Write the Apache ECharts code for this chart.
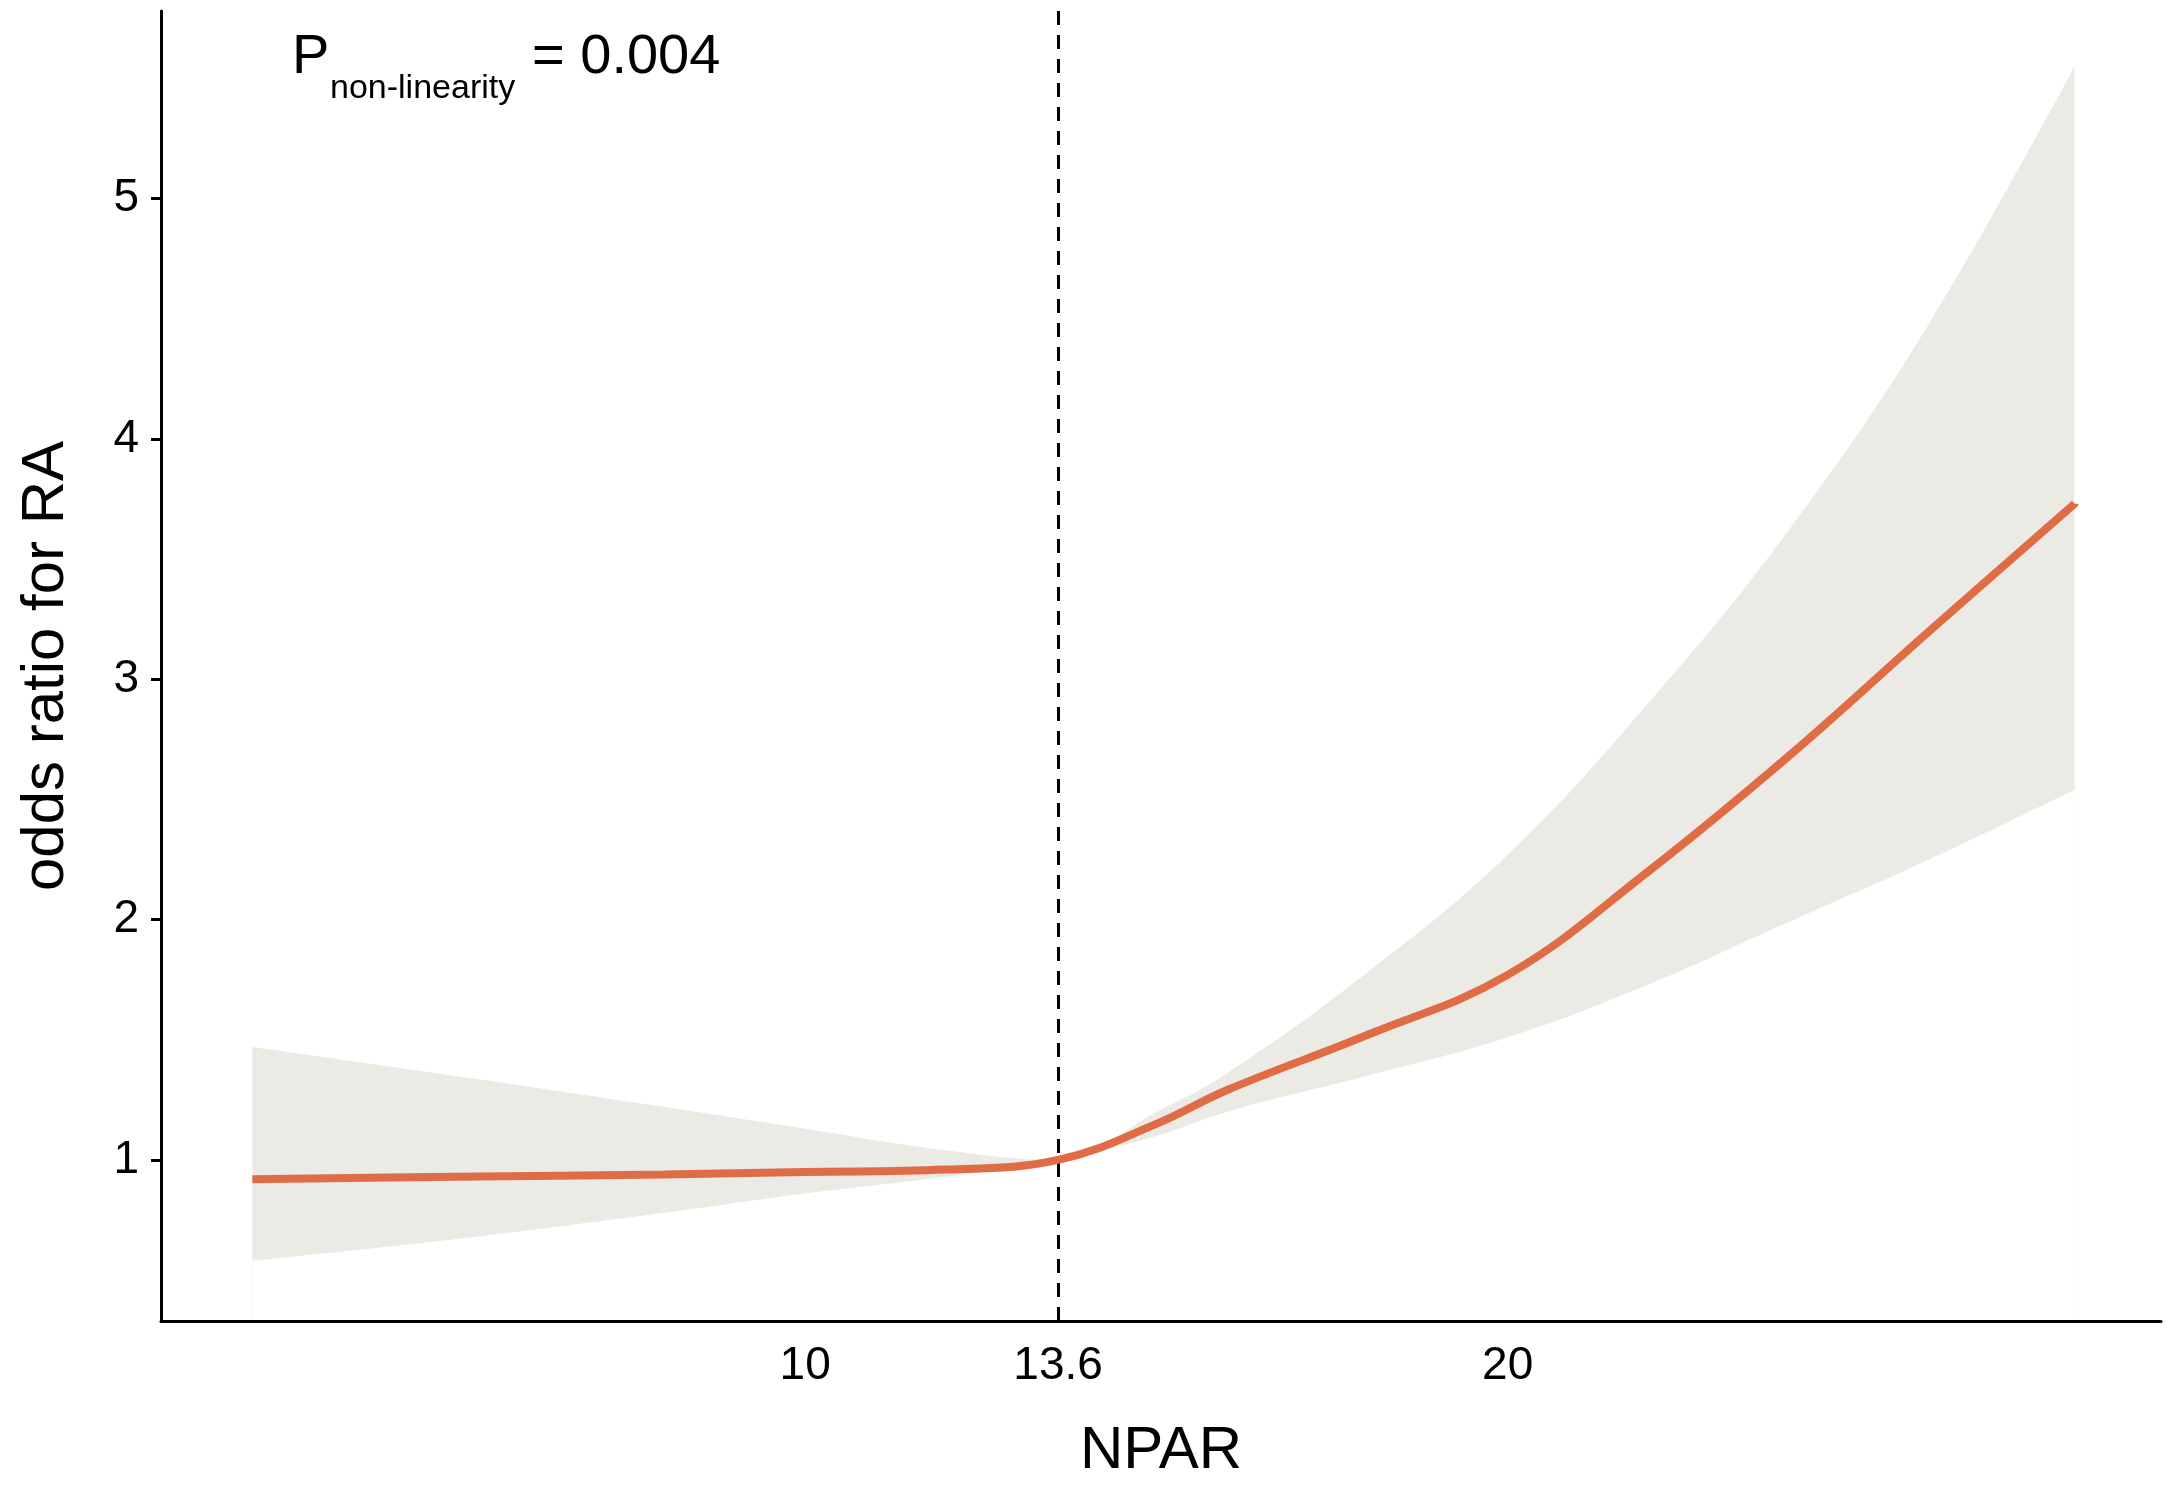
<!DOCTYPE html>
<html><head><meta charset="utf-8">
<script src="https://cdn.jsdelivr.net/npm/echarts@6/dist/echarts.min.js"></script>
<style>html,body{margin:0;background:#fff}#c{width:2172px;height:1486px}</style>
</head><body><div id="c"></div>
<script>
const npar  = [2.13, 5, 8, 10, 12, 13.6, 15, 16, 18, 20, 22, 24, 26, 28.07];
const orVal = [0.92,0.93,0.94,0.95,0.96,1.0,1.15,1.29,1.52,1.77,2.2,2.68,3.2,3.73];
const upper = [1.47,1.35,1.22,1.13,1.04,1.0,1.2,1.36,1.78,2.27,2.9,3.62,4.48,5.55];
const lower = [0.58,0.67,0.78,0.86,0.93,1.0,1.1,1.2,1.35,1.51,1.73,1.99,2.25,2.54];
const xTicks = [10, 13.6, 20];
const yTicks = [1, 2, 3, 4, 5];
const cutoff = 13.6;

const font = 'Liberation Sans, Arial, sans-serif';
const chart = echarts.init(document.getElementById('c'));
chart.setOption({
  animation: false,
  grid: {left: 161, right: 11, top: 11, bottom: 136},
  xAxis: {
    type: 'value', min: 0.83, max: 29.3, z: 10,
    axisLine: {lineStyle: {color: '#000', width: 3}},
    axisTick: {show: false},
    splitLine: {show: false},
    axisLabel: {customValues: xTicks, fontSize: 46, color: '#000', fontFamily: font, margin: 22},
    name: 'NPAR', nameLocation: 'middle', nameGap: 100,
    nameTextStyle: {fontSize: 60, color: '#000', fontFamily: font}
  },
  yAxis: {
    type: 'value', min: 0.33, max: 5.78, z: 10,
    axisLine: {show: true, lineStyle: {color: '#000', width: 3}},
    axisTick: {show: true, customValues: yTicks, length: 10, lineStyle: {color: '#000', width: 3}},
    splitLine: {show: false},
    axisLabel: {customValues: yTicks, fontSize: 46, color: '#000', fontFamily: font, margin: 22},
    name: 'odds ratio for RA', nameLocation: 'middle', nameGap: 85,
    nameTextStyle: {fontSize: 60, color: '#000', fontFamily: font}
  },
  series: [
    {type: 'line', data: npar.map((x,i)=>[x, upper[i]]), smooth: 0.4, z: 1,
     lineStyle: {opacity: 0}, symbol: 'none', areaStyle: {color: '#EBEAE4', opacity: 1, origin: 'start'}},
    {type: 'line', data: npar.map((x,i)=>[x, lower[i]]), smooth: 0.4, z: 2,
     lineStyle: {opacity: 0}, symbol: 'none', areaStyle: {color: '#ffffff', opacity: 1, origin: 'start'}},
    {type: 'line', data: npar.map((x,i)=>[x, orVal[i]]), smooth: 0.4, symbol: 'none', z: 5,
     lineStyle: {color: '#E06C45', width: 8},
     markLine: {symbol: 'none', silent: true, label: {show: false},
       lineStyle: {color: '#000', type: [14, 10], width: 3},
       data: [{xAxis: cutoff}]}}
  ],
  graphic: [
    {type: 'text', left: 292, top: 30, style: {text: 'P', fontSize: 56, fontFamily: font, fill: '#000'}},
    {type: 'text', left: 330, top: 72, style: {text: 'non-linearity', fontSize: 34, fontFamily: font, fill: '#000'}},
    {type: 'text', left: 532, top: 30, style: {text: '= 0.004', fontSize: 56, fontFamily: font, fill: '#000'}}
  ]
});
</script></body></html>
